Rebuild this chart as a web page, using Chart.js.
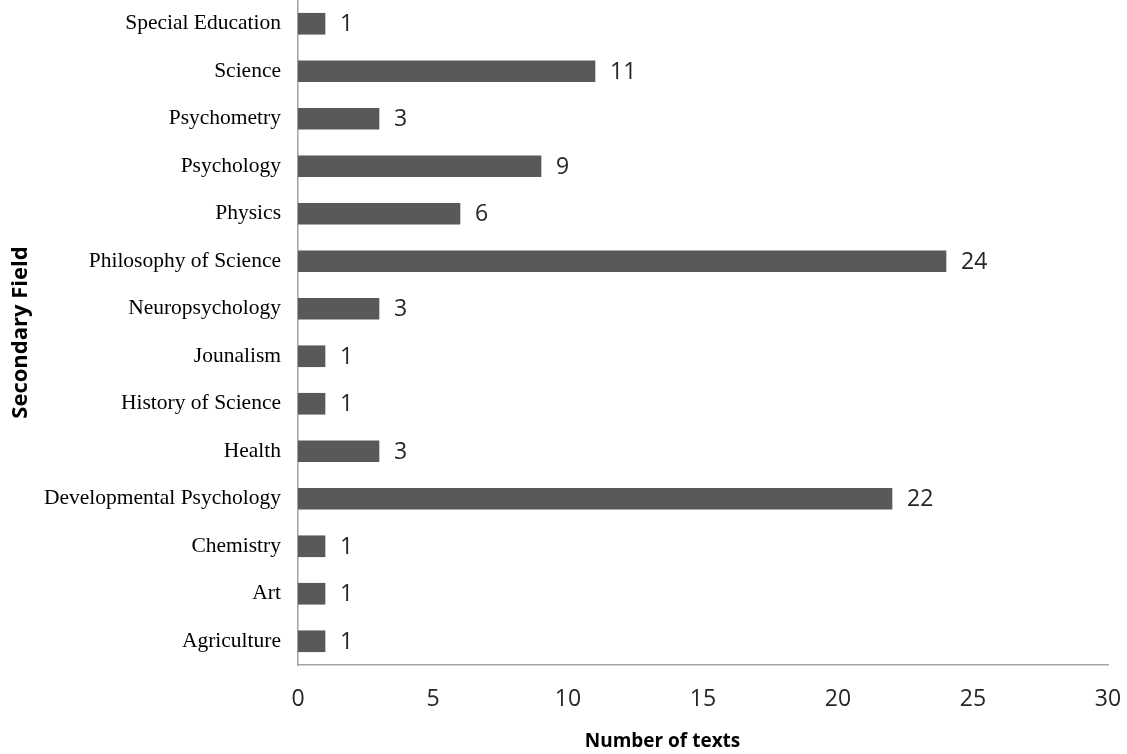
<!DOCTYPE html>
<html>
<head>
<meta charset="utf-8">
<title>Secondary Field – Number of texts</title>
<script src="https://cdn.jsdelivr.net/npm/chart.js@4.4.1/dist/chart.umd.min.js"></script>
<style>
  html, body { margin: 0; padding: 0; background: #ffffff; }
  canvas { display: block; }
</style>
</head>
<body>
<canvas id="chart" width="1127" height="754"></canvas>
<script>
// Secondary fields (bottom to top) and the number of texts in each
const fields = [
  'Agriculture', 'Art', 'Chemistry', 'Developmental Psychology', 'Health',
  'History of Science', 'Jounalism', 'Neuropsychology', 'Philosophy of Science',
  'Physics', 'Psychology', 'Psychometry', 'Science', 'Special Education'
];
const textCounts = [1, 1, 1, 22, 3, 1, 1, 3, 24, 6, 9, 3, 11, 1];
const countTicks = [0, 5, 10, 15, 20, 25, 30];
const xTitle = 'Number of texts';
const yTitle = 'Secondary Field';

const BAR_COLOR = '#595959';
const AXIS_COLOR = '#a3a3a3';
const NUM_FONT = '"Open Sans", "DejaVu Sans", sans-serif';
const SERIF_FONT = '"Liberation Serif", "DejaVu Serif", serif';

// Value printed just past the end of each bar
const valueLabels = {
  id: 'valueLabels',
  afterDatasetsDraw(chart) {
    const ctx = chart.ctx;
    const meta = chart.getDatasetMeta(0);
    ctx.save();
    ctx.font = '23px ' + NUM_FONT;
    ctx.fillStyle = '#262626';
    ctx.textAlign = 'left';
    ctx.textBaseline = 'middle';
    meta.data.forEach((bar, i) => {
      ctx.fillText(String(textCounts[i]), bar.x + 15, bar.y + 1);
    });
    ctx.restore();
  }
};

// Horizontal axis title, set a little left of the plot centre
const xAxisTitle = {
  id: 'xAxisTitle',
  afterDraw(chart) {
    const a = chart.chartArea;
    const ctx = chart.ctx;
    ctx.save();
    ctx.font = 'bold 19px ' + NUM_FONT;
    ctx.fillStyle = '#000000';
    ctx.textAlign = 'center';
    ctx.textBaseline = 'alphabetic';
    ctx.fillText(xTitle, a.left + 0.45 * (a.right - a.left), chart.height - 7);
    ctx.restore();
  }
};

// Keep the axes at fixed sizes with no extra edge padding
function fixBox(size) {
  return function (scale) {
    if (scale.isHorizontal()) scale.height = size; else scale.width = size;
    scale.paddingTop = 0;
    scale.paddingBottom = 0;
    scale.paddingLeft = 0;
    scale.paddingRight = 0;
  };
}

new Chart(document.getElementById('chart'), {
  type: 'bar',
  data: {
    labels: fields,
    datasets: [{
      data: textCounts,
      backgroundColor: BAR_COLOR,
      borderWidth: 0,
      barThickness: 21
    }]
  },
  options: {
    indexAxis: 'y',
    responsive: false,
    animation: false,
    devicePixelRatio: 1,
    layout: { padding: { top: 0, right: 19, bottom: 0, left: 0 } },
    plugins: {
      legend: { display: false },
      tooltip: { enabled: false }
    },
    scales: {
      x: {
        min: 0,
        max: 30,
        afterBuildTicks(scale) {
          scale.ticks = countTicks.map(v => ({ value: v }));
        },
        afterFit: fixBox(89),
        grid: { display: false, drawTicks: false },
        border: { display: true, color: AXIS_COLOR, width: 1.5 },
        ticks: {
          padding: 21,
          color: '#262626',
          font: { family: NUM_FONT, size: 23 }
        },
        title: { display: false }
      },
      y: {
        reverse: true,
        afterFit: fixBox(298),
        grid: { display: false, drawTicks: false },
        border: { display: true, color: AXIS_COLOR, width: 1.5 },
        ticks: {
          padding: 17,
          color: '#000000',
          font: { family: SERIF_FONT, size: 21.5 }
        },
        title: {
          display: true,
          text: yTitle,
          color: '#000000',
          font: { family: NUM_FONT, size: 22, weight: 'bold' },
          padding: { top: 8, bottom: 0 }
        }
      }
    }
  },
  plugins: [valueLabels, xAxisTitle]
});
</script>
</body>
</html>
